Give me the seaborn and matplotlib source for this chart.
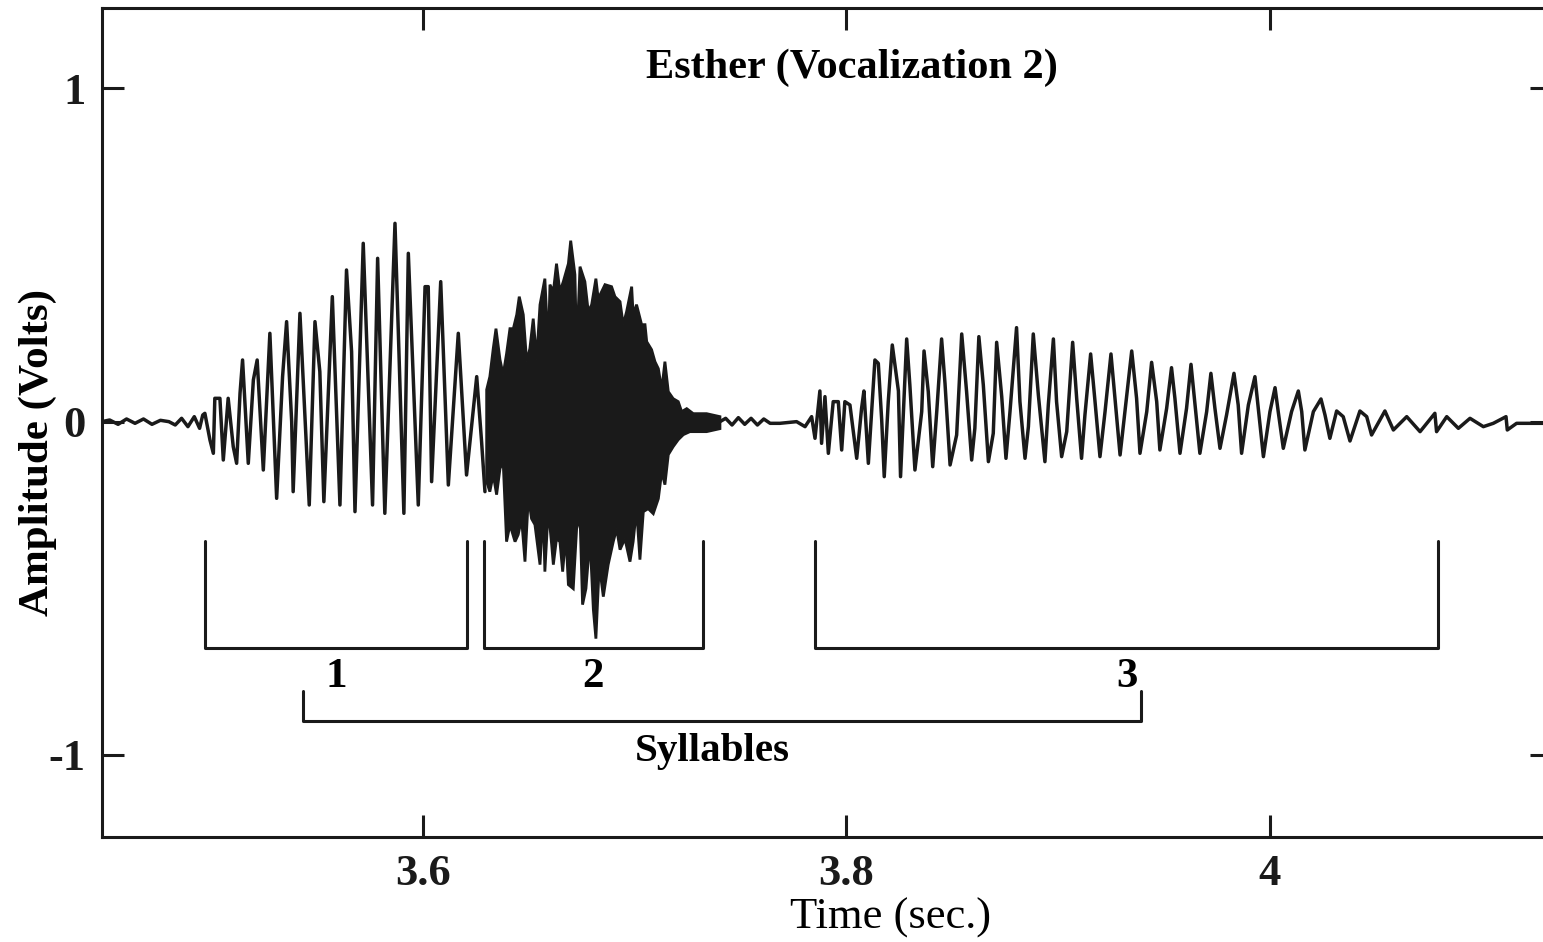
import numpy as np
import pandas as pd
import seaborn as sns
import matplotlib.pyplot as plt

# waveform: alternating peaks / troughs (sec, volts)
onset_t = [3.4484, 3.4520, 3.4560, 3.4600, 3.4640, 3.4680, 3.4720, 3.4760, 3.4800, 3.4830,
           3.4860, 3.4890, 3.4920, 3.4945, 3.4960]
onset_v = [0.0, 0.005, -0.008, 0.008, -0.005, 0.008, -0.008, 0.004, 0.0, -0.01,
           0.01, -0.015, 0.015, -0.02, 0.02]

syl1_t = [3.4970, 3.4994, 3.5010, 3.5017, 3.5041, 3.5057, 3.5080, 3.5104, 3.5120, 3.5136,
          3.5148, 3.5175, 3.5199, 3.5217, 3.5246, 3.5277, 3.5309, 3.5337, 3.5356, 3.5380,
          3.5387, 3.5419, 3.5463, 3.5490, 3.5513, 3.5532, 3.5553, 3.5572, 3.5608, 3.5639,
          3.5663, 3.5679, 3.5718, 3.5734, 3.5762, 3.5786, 3.5820, 3.5868, 3.5910, 3.5931,
          3.5978, 3.6010, 3.6025, 3.6041, 3.6084, 3.6120, 3.6167, 3.6206, 3.6254, 3.6277,
          3.6293]
syl1_v = [0.025, -0.055, -0.095, 0.070, 0.070, -0.115, 0.070, -0.075, -0.125, 0.085,
          0.185, -0.125, 0.125, 0.185, -0.145, 0.265, -0.230, 0.135, 0.300, 0.000,
          -0.210, 0.325, -0.250, 0.300, 0.150, -0.240, 0.085, 0.375, -0.250, 0.455,
          0.210, -0.270, 0.535, 0.250, -0.250, 0.490, -0.275, 0.595, -0.275, 0.505,
          -0.250, 0.405, 0.405, -0.180, 0.420, -0.190, 0.265, -0.160, 0.135, -0.060,
          -0.210]

# syllable 2 is a solid blob: upper and lower envelope
syl2_up_t = [3.6301, 3.6316, 3.6332, 3.6345, 3.6364, 3.6379, 3.6395, 3.6411, 3.6427, 3.6443,
             3.6455, 3.6474, 3.6490, 3.6505, 3.6521, 3.6537, 3.6553, 3.6576, 3.6592, 3.6600,
             3.6616, 3.6631, 3.6647, 3.6663, 3.6687, 3.6698, 3.6718, 3.6726, 3.6742, 3.6765,
             3.6781, 3.6797, 3.6817, 3.6828, 3.6860, 3.6891, 3.6907, 3.6931, 3.6946, 3.6962,
             3.6986, 3.6993, 3.7009, 3.7033, 3.7049, 3.7057, 3.7080, 3.7096, 3.7112, 3.7128,
             3.7143, 3.7159, 3.7182, 3.7206, 3.7222, 3.7246, 3.7277, 3.7340, 3.7403]
syl2_up_v = [0.096, 0.135, 0.219, 0.279, 0.186, 0.141, 0.204, 0.279, 0.279, 0.321,
             0.375, 0.321, 0.180, 0.219, 0.309, 0.186, 0.351, 0.429, 0.216, 0.411,
             0.390, 0.474, 0.390, 0.420, 0.474, 0.543, 0.441, 0.216, 0.465, 0.420,
             0.330, 0.351, 0.429, 0.369, 0.411, 0.405, 0.375, 0.360, 0.291, 0.330,
             0.405, 0.321, 0.351, 0.291, 0.291, 0.240, 0.216, 0.180, 0.159, 0.096,
             0.180, 0.090, 0.069, 0.060, 0.030, 0.039, 0.024, 0.024, 0.015]
syl2_lo_t = [3.6301, 3.6316, 3.6332, 3.6348, 3.6364, 3.6379, 3.6395, 3.6411, 3.6435, 3.6450,
             3.6466, 3.6482, 3.6498, 3.6513, 3.6529, 3.6553, 3.6568, 3.6576, 3.6592, 3.6608,
             3.6616, 3.6631, 3.6647, 3.6660, 3.6675, 3.6687, 3.6710, 3.6726, 3.6742, 3.6754,
             3.6770, 3.6789, 3.6805, 3.6817, 3.6833, 3.6852, 3.6875, 3.6899, 3.6915, 3.6931,
             3.6954, 3.6978, 3.6993, 3.7009, 3.7025, 3.7041, 3.7064, 3.7088, 3.7112, 3.7128,
             3.7143, 3.7159, 3.7182, 3.7206, 3.7230, 3.7261, 3.7340, 3.7403]
syl2_lo_v = [-0.180, -0.210, -0.159, -0.219, -0.141, -0.120, -0.360, -0.309, -0.360, -0.339,
             -0.291, -0.420, -0.225, -0.291, -0.309, -0.429, -0.261, -0.450, -0.261, -0.369,
             -0.429, -0.351, -0.360, -0.450, -0.339, -0.489, -0.501, -0.321, -0.285, -0.549,
             -0.501, -0.351, -0.564, -0.651, -0.429, -0.525, -0.429, -0.360, -0.321, -0.384,
             -0.351, -0.420, -0.360, -0.261, -0.414, -0.270, -0.261, -0.276, -0.231, -0.150,
             -0.189, -0.099, -0.075, -0.054, -0.039, -0.030, -0.030, -0.021]

gap_t = [3.7403, 3.7430, 3.7460, 3.7490, 3.7520, 3.7550, 3.7580, 3.7610, 3.7640]
gap_v = [0.0, 0.010, -0.010, 0.012, -0.008, 0.010, -0.010, 0.008, -0.005]

syl3_t = [3.7686, 3.7765, 3.7805, 3.7836, 3.7852, 3.7875, 3.7883, 3.7899, 3.7915, 3.7938,
          3.7962, 3.7978, 3.7993, 3.8017, 3.8049, 3.8072, 3.8083, 3.8104, 3.8135, 3.8151,
          3.8167, 3.8179, 3.8198, 3.8217, 3.8246, 3.8256, 3.8285, 3.8300, 3.8324, 3.8356,
          3.8367, 3.8387, 3.8408, 3.8427, 3.8450, 3.8466, 3.8490, 3.8521, 3.8545, 3.8568,
          3.8592, 3.8607, 3.8626, 3.8647, 3.8671, 3.8694, 3.8710, 3.8734, 3.8754, 3.8773,
          3.8804, 3.8820, 3.8844, 3.8860, 3.8883, 3.8907, 3.8938, 3.8954, 3.8978, 3.8993,
          3.9017, 3.9041, 3.9069, 3.9088, 3.9111, 3.9127, 3.9154, 3.9174, 3.9198, 3.9222,
          3.9250, 3.9269, 3.9293, 3.9316, 3.9348, 3.9371, 3.9387, 3.9419, 3.9442, 3.9466]
syl3_v = [-0.005, 0.000, -0.015, 0.015, -0.050, 0.092, -0.065, 0.075, -0.095, 0.060,
          0.060, -0.085, 0.060, 0.050, -0.110, 0.040, 0.092, -0.125, 0.185, 0.175,
          0.005, -0.165, 0.060, 0.230, 0.092, -0.165, 0.248, 0.110, -0.145, 0.030,
          0.212, 0.090, -0.135, 0.030, 0.248, 0.115, -0.130, -0.040, 0.263, 0.090,
          -0.115, -0.020, 0.255, 0.110, -0.120, -0.035, 0.238, 0.075, -0.110, 0.030,
          0.282, 0.060, -0.110, -0.015, 0.263, 0.080, -0.120, 0.050, 0.248, 0.060,
          -0.105, -0.030, 0.238, 0.070, -0.110, 0.020, 0.203, 0.065, -0.105, 0.030,
          0.203, 0.070, -0.100, 0.030, 0.212, 0.070, -0.095, 0.030, 0.178, 0.060]

tail_t = [3.9481, 3.9513, 3.9536, 3.9552, 3.9576, 3.9607, 3.9628, 3.9647, 3.9670, 3.9702,
          3.9722, 3.9741, 3.9765, 3.9796, 3.9831, 3.9851, 3.9867, 3.9899, 3.9930, 3.9946,
          3.9970, 4.0001, 4.0025, 4.0040, 4.0064, 4.0103, 4.0135, 4.0151, 4.0166, 4.0206,
          4.0242, 4.0261, 4.0284, 4.0316, 4.0347, 4.0379, 4.0426, 4.0458, 4.0481, 4.0544,
          4.0584, 4.0647, 4.0710, 4.0780, 4.0788, 4.0836, 4.0891, 4.0946, 4.1009, 4.1056,
          4.1116, 4.1122, 4.1166, 4.1276, 4.1333]
tail_v = [-0.085, 0.040, 0.162, 0.070, -0.095, 0.040, 0.172, 0.050, -0.095, 0.030,
          0.145, 0.040, -0.080, 0.020, 0.145, 0.050, -0.095, 0.050, 0.135, 0.040,
          -0.105, 0.030, 0.102, 0.030, -0.080, 0.030, 0.092, 0.030, -0.085, 0.030,
          0.068, 0.020, -0.050, 0.032, 0.015, -0.058, 0.032, 0.015, -0.040, 0.032,
          -0.025, 0.015, -0.030, 0.025, -0.030, 0.015, -0.020, 0.010, -0.015, -0.005,
          0.015, -0.025, -0.005, -0.005, -0.005]

# syllable brackets (start, end in sec)
syl_names = ["1", "2", "3"]
syl_spans = [(3.4970, 3.6208), (3.6288, 3.7323), (3.7852, 4.0795)]
all_span = (3.5433, 3.9392)

sns.set_theme(style="white")
plt.rcParams["font.family"] = ["Liberation Serif", "DejaVu Serif"]
plt.rcParams["axes.unicode_minus"] = False
plt.rcParams["text.color"] = "black"
plt.rcParams["axes.labelcolor"] = "black"

fig = plt.figure(figsize=(15.43, 9.42), dpi=100)
ax = fig.add_axes([0.0661, 0.1115, 0.9397, 0.880])

wave = pd.concat([
    pd.DataFrame({"time": onset_t + syl1_t, "volts": onset_v + syl1_v, "seg": "a"}),
    pd.DataFrame({"time": gap_t + syl3_t + tail_t, "volts": gap_v + syl3_v + tail_v, "seg": "c"}),
])
sns.lineplot(data=wave, x="time", y="volts", units="seg", estimator=None, sort=False,
             color="k", lw=2.5, ax=ax)
ax.fill(np.r_[syl2_up_t, syl2_lo_t[::-1]], np.r_[syl2_up_v, syl2_lo_v[::-1]],
        color="k", lw=2)

lw = 2.2
top, bot = -0.357, -0.68
for name, (s, e) in zip(syl_names, syl_spans):
    ax.plot([s, s, e, e], [top, bot, bot, top], color="k", lw=lw)
    ax.text((s + e) / 2, -0.765, name, ha="center", va="center",
            fontsize=31, fontweight="bold")
s, e = all_span
ax.plot([s, s, e, e], [-0.807, -0.897, -0.897, -0.807], color="k", lw=lw)
ax.text(3.7365, -0.99, "Syllables", ha="center", va="center", fontsize=29.5, fontweight="bold")
ax.text(3.8026, 1.062, "Esther (Vocalization 2)", ha="center", va="center",
        fontsize=30.5, fontweight="bold")

ax.set_xlim(3.4484, 4.1333)
ax.set_ylim(-1.246, 1.241)
ax.set_xticks([3.6, 3.8, 4.0])
ax.set_xticklabels(["3.6", "3.8", "4"])
ax.set_yticks([-1, 0, 1])
ax.set_yticklabels(["-1", "0", "1"])
ax.tick_params(direction="in", length=16, width=2.2, bottom=True, left=True,
               top=True, right=True, labelsize=32, colors="k", pad=12)
for lab in ax.get_xticklabels() + ax.get_yticklabels():
    lab.set_fontweight("bold")
for sp in ax.spines.values():
    sp.set_color("k")
    sp.set_linewidth(2.2)

ax.set_xlabel("Time (sec.)", fontsize=32, va="center")
ax.xaxis.set_label_coords(0.544, -0.098)
ax.set_ylabel("Amplitude (Volts)", fontsize=31, fontweight="bold", va="center")
ax.yaxis.set_label_coords(-0.044, 0.464)

fig.savefig("out.png", dpi=100, facecolor="white")
